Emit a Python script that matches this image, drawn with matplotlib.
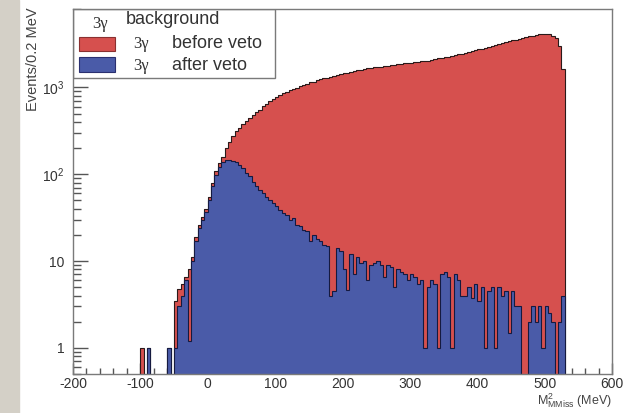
import numpy as np
import matplotlib
matplotlib.use("Agg")
import matplotlib.pyplot as plt
from matplotlib.patches import Rectangle
from matplotlib.ticker import FixedLocator, MultipleLocator, NullFormatter

plt.rcParams['font.family'] = ['Liberation Sans', 'DejaVu Sans']
plt.rcParams['mathtext.fontset'] = 'custom'
plt.rcParams['mathtext.rm'] = 'Liberation Sans'
plt.rcParams['mathtext.it'] = 'Liberation Sans:italic'

# 5 MeV bins from -100 to 530 MeV
bin_edges = np.arange(-100, 531, 5)

# 3 gamma background before veto
before_veto = [
    1, 0, 1, 0, 0, 0, 0, 0, 1, 0,
    3.5, 4.8, 5.5, 6.5, 8, 11, 19, 26, 32, 40,
    55, 80, 108, 135, 160, 198, 236, 278, 312, 340,
    378, 412, 443, 482, 518, 556, 603, 648, 697, 738,
    782, 818, 862, 888, 932, 948, 992, 1028, 1072, 1098,
    1142, 1166, 1204, 1236, 1272, 1296, 1334, 1356, 1392, 1418,
    1455, 1476, 1512, 1538, 1574, 1596, 1634, 1655, 1684, 1698,
    1724, 1738, 1765, 1776, 1806, 1818, 1853, 1866, 1894, 1906,
    1934, 1946, 1975, 1988, 2014, 2036, 2085, 2104, 2156, 2184,
    2236, 2264, 2318, 2346, 2406, 2444, 2508, 2552, 2626, 2674,
    2748, 2794, 2868, 2914, 2996, 3064, 3158, 3222, 3318, 3384,
    3478, 3544, 3638, 3704, 3798, 3862, 3956, 4024, 4108, 4142,
    4156, 4094, 3948, 3706, 3010, 1620,
]

# 3 gamma background after veto
after_veto = [
    0, 0, 1, 0, 0, 0, 0, 0, 1, 0,
    1, 3, 4, 6, 1.2, 10, 17, 24, 30, 37,
    50, 74, 98, 122, 137, 144, 146, 141, 139, 127,
    117, 104, 95, 82, 73, 65, 61, 55, 50, 47,
    43, 39, 36, 34, 30, 31, 26, 25, 23, 22,
    17, 20, 18, 17, 15.5, 15, 4, 4.5, 14, 13,
    8, 4.6, 12, 7, 11, 9.5, 10, 6, 9, 9.5,
    10, 9, 6.5, 9, 8.5, 5, 8, 7.5, 7, 6,
    7, 6.5, 5.5, 6, 1, 5, 6, 5.5, 1, 7,
    7.5, 6.5, 1, 7, 6, 4, 4, 5, 3.8, 5.5,
    3.5, 5, 1, 4.5, 5, 1, 5, 4, 4.5, 1.5,
    4.5, 3, 3, 0, 0, 2, 3, 2, 3, 1,
    3, 2.5, 2, 0, 2, 4,
]

xticks = [-200, -100, 0, 100, 200, 300, 400, 500, 600]
xtick_labels = ['-200', '-100', '0', '100', '200', '300', '400', '500', '600']
yticks = [1, 10, 100, 1000]
ytick_labels = ['1', '10', r'$10^{2}$', r'$10^{3}$']

red = '#d6504e'
blue = '#4a5ba8'
floor = 1e-2

fig = plt.figure(figsize=(6.28, 4.13), dpi=100)
fig.patches.append(Rectangle((0, 0), 19 / 628, 1, transform=fig.transFigure,
                             color='#d4d0c7', zorder=0))
ax = fig.add_axes([73 / 628, 1 - 374 / 413, 539 / 628, 365 / 413])

bv = np.maximum(np.array(before_veto, dtype=float), floor)
av = np.maximum(np.array(after_veto, dtype=float), floor)

ax.stairs(bv, bin_edges, fill=True, color=red, baseline=floor, zorder=2)
ax.stairs(bv, bin_edges, color='#2a1a1a', lw=0.8, baseline=floor, zorder=3)
ax.stairs(av, bin_edges, fill=True, color=blue, baseline=floor, zorder=4)
ax.stairs(av, bin_edges, color='#151a40', lw=0.8, baseline=floor, zorder=5)

ax.set_yscale('log')
ax.set_xlim(-200, 600)
ax.set_ylim(0.5, 8000)

ax.xaxis.set_major_locator(FixedLocator(xticks))
ax.set_xticklabels(xtick_labels)
ax.xaxis.set_minor_locator(MultipleLocator(20))
ax.yaxis.set_major_locator(FixedLocator(yticks))
ax.set_yticklabels(ytick_labels)
ax.yaxis.set_minor_formatter(NullFormatter())

ax.tick_params(which='both', direction='in', top=False, right=False,
               colors='#555555', labelcolor='#333333', labelsize=10)
ax.tick_params(axis='y', which='major', length=11, width=1, pad=6)
ax.tick_params(axis='y', which='minor', length=6, width=1)
ax.tick_params(axis='x', which='major', length=8, width=1, pad=2)
ax.tick_params(axis='x', which='minor', length=4.5, width=1)
for s in ax.spines.values():
    s.set_color('#7a7a7a')
    s.set_linewidth(1)
    s.set_zorder(10)

# legend box
ax.add_patch(Rectangle((0, 1 - 69 / 365), 202 / 539, 69 / 365, transform=ax.transAxes,
                       facecolor='white', edgecolor='#7a7a7a', lw=1, zorder=8))
ax.add_patch(Rectangle((6 / 539, 1 - 42 / 365), 36 / 539, 14 / 365, transform=ax.transAxes,
                       facecolor=red, edgecolor='#8a3030', lw=0.8, zorder=9))
ax.add_patch(Rectangle((6 / 539, 1 - 63 / 365), 36 / 539, 15 / 365, transform=ax.transAxes,
                       facecolor=blue, edgecolor='#2a3070', lw=0.8, zorder=9))
txt = dict(transform=ax.transAxes, zorder=9, color='#333333', va='center')
serif = ['Liberation Serif', 'DejaVu Serif']
ax.text(19 / 539, 1 - 15 / 365, '3γ', fontsize=12, family=serif, **txt)
ax.text(53 / 539, 1 - 10 / 365, 'background', fontsize=13, **txt)
ax.text(60 / 539, 1 - 35 / 365, '3γ', fontsize=12, family=serif, **txt)
ax.text(99 / 539, 1 - 34 / 365, 'before veto', fontsize=13, **txt)
ax.text(60 / 539, 1 - 57 / 365, '3γ', fontsize=12, family=serif, **txt)
ax.text(99 / 539, 1 - 56 / 365, 'after veto', fontsize=13, **txt)

fig.text(33 / 628, 1 - 7 / 413, 'Events/0.2 MeV', rotation=90, ha='center', va='top',
         fontsize=10.5, color='#444444')
fig.text(612 / 628, 1 - 405 / 413, r'M$^{2}_{\rm MMiss}$ (MeV)', ha='right', va='baseline',
         fontsize=9, color='#444444')

fig.savefig('out.png', dpi=100)
